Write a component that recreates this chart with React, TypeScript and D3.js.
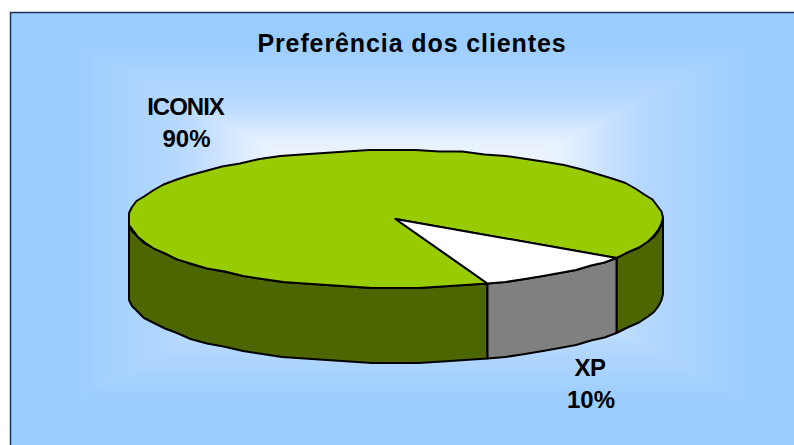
import React from "react";
import * as d3 from "d3";

const categories = ["ICONIX", "XP"];
const shares = [90, 10];
const percentLabels = ["90%", "10%"];
const topColors = ["#99cc00", "#ffffff"];
const sideColors = ["#4d6600", "#808080"];
const chartTitle = "Preferência dos clientes";

const W = 794, H = 445;
const cx = 395.5, cy = 219, rx = 267, ry = 69, depth = 75;
const x = d3.scaleLinear().domain([-1, 1]).range([cx - rx, cx + rx]);
const y = d3.scaleLinear().domain([-1, 1]).range([cy - ry, cy + ry]);

const pieGen = d3.pie<number>().sort(null).startAngle((160 * Math.PI) / 180).endAngle((520 * Math.PI) / 180);
const arcs = pieGen(shares);

// slightly coarse vertex grid reproduces the reference's faceted outline
const pt = (a: number, dz = 0): [number, number] => [
  Math.round(x(Math.sin(a)) / 1.5) * 1.5,
  Math.round(y(-Math.cos(a)) / 1.5) * 1.5 + dz,
];
const line = d3.line();
const STEP = (5 * Math.PI) / 180;
const samples = (a0: number, a1: number) => {
  const n = Math.max(1, Math.ceil((a1 - a0) / STEP));
  return d3.range(n + 1).map((i) => a0 + ((a1 - a0) * i) / n);
};
const topPath = (a0: number, a1: number) =>
  line([[cx, cy], ...samples(a0, a1).map((a) => pt(a))])! + "Z";

const sidePaths = (a0: number, a1: number) => {
  const out: string[] = [];
  for (const k of [0, 1, 2]) {
    const lo = Math.max(a0, Math.PI / 2 + k * 2 * Math.PI);
    const hi = Math.min(a1, 1.5 * Math.PI + k * 2 * Math.PI);
    if (hi > lo) {
      const s = samples(lo, hi);
      out.push(line([...s.map((a) => pt(a)), ...s.slice().reverse().map((a) => pt(a, depth))])! + "Z");
    }
  }
  return out;
};

const font = "'Liberation Sans', Arial, sans-serif";
const labelPos = [
  { x: 185.5, y1: 115, y2: 147, spacing: -1 },
  { x: 590, y1: 376, y2: 408, spacing: -0.5 },
];

// rectangular "from centre" background gradient, built from four wedges
const gx = 410, gy = 222, ghw = 370, ghh = 195;
const gradStops: [number, string][] = [
  [0, "#ffffff"],
  [0.4, "#e8f2ff"],
  [0.52, "#cce3ff"],
  [0.63, "#b5d8ff"],
  [0.95, "#99ccff"],
];
const K = 1.3;
const corners: [number, number][] = [
  [gx - ghw * K, gy - ghh * K],
  [gx + ghw * K, gy - ghh * K],
  [gx + ghw * K, gy + ghh * K],
  [gx - ghw * K, gy + ghh * K],
];
const wedges = [
  { id: "top", a: corners[0], b: corners[1], x2: gx, y2: gy - ghh },
  { id: "right", a: corners[1], b: corners[2], x2: gx + ghw, y2: gy },
  { id: "bottom", a: corners[2], b: corners[3], x2: gx, y2: gy + ghh },
  { id: "left", a: corners[3], b: corners[0], x2: gx - ghw, y2: gy },
];

export default function App() {
  return (
    <svg width={W} height={H} viewBox={`0 0 ${W} ${H}`} style={{ position: "absolute", left: 0, top: 0, background: "#fff" }}>
      <defs>
        {wedges.map((w) => (
          <linearGradient key={w.id} id={`g-${w.id}`} gradientUnits="userSpaceOnUse" x1={gx} y1={gy} x2={w.x2} y2={w.y2}>
            {gradStops.map(([o, c]) => (
              <stop key={o} offset={o} stopColor={c} />
            ))}
          </linearGradient>
        ))}
        <clipPath id="frame">
          <rect x={10.5} y={12.5} width={800} height={450} />
        </clipPath>
      </defs>
      <g clipPath="url(#frame)">
        {wedges.map((w) => (
          <path
            key={w.id}
            d={line([[gx, gy], w.a, w.b])! + "Z"}
            fill={`url(#g-${w.id})`}
            stroke={`url(#g-${w.id})`}
            strokeWidth={0.6}
          />
        ))}
      </g>
      <rect x={10.5} y={12.5} width={800} height={450} fill="none" stroke="#1c3550" strokeWidth={1.5} />
      <text x={412} y={52} textAnchor="middle" fontFamily={font} fontWeight="bold" fontSize={25} fill="#000" letterSpacing={0.9}>
        {chartTitle}
      </text>
      {arcs.map((d, i) =>
        sidePaths(d.startAngle, d.endAngle).map((p, j) => (
          <path key={`s${i}${j}`} d={p} fill={sideColors[i]} stroke="#000" strokeWidth={2} strokeLinejoin="round" />
        ))
      )}
      {arcs.map((d, i) => (
        <path key={`t${i}`} d={topPath(d.startAngle, d.endAngle)} fill={topColors[i]} stroke="#000" strokeWidth={2} strokeLinejoin="round" />
      ))}
      {categories.map((c, i) => (
        <g key={c} fontFamily={font} fontWeight="bold" fontSize={24} textAnchor="middle" fill="#000">
          <text x={labelPos[i].x} y={labelPos[i].y1} letterSpacing={labelPos[i].spacing}>{c}</text>
          <text x={labelPos[i].x + 1} y={labelPos[i].y2}>{percentLabels[i]}</text>
        </g>
      ))}
    </svg>
  );
}
